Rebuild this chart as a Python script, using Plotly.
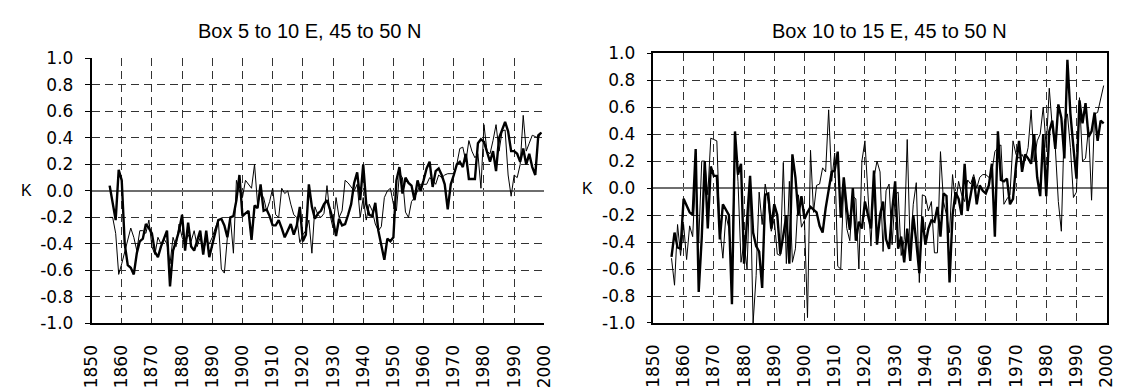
import plotly.graph_objects as go

years = list(range(1856, 2000))

left_thick = [
    0.04, -0.08, -0.22, 0.16,
    0.08, -0.40, -0.56, -0.58, -0.63, -0.47, -0.38, -0.36, -0.25, -0.28,
    -0.32, -0.46, -0.50, -0.42, -0.36, -0.30, -0.72, -0.45, -0.38, -0.30,
    -0.18, -0.45, -0.24, -0.42, -0.45, -0.38, -0.30, -0.48, -0.30, -0.50,
    -0.40, -0.30, -0.22, -0.21, -0.26, -0.35, -0.20, -0.19, -0.07, 0.12,
    -0.19, -0.17, -0.15, -0.37, -0.11, -0.13, 0.05, -0.15, -0.14, -0.19,
    -0.26, -0.26, -0.22, -0.28, -0.35, -0.30, -0.25, -0.33, -0.26, -0.12,
    -0.38, -0.33, 0.05, -0.12, -0.21, -0.17, -0.15, -0.10, -0.07, -0.14,
    -0.22, -0.34, -0.21, -0.26, -0.25, -0.18, -0.10, 0.06, 0.14, -0.07,
    0.20, -0.10, -0.18, -0.19, -0.09, -0.30, -0.40, -0.52, -0.36, -0.38,
    -0.35, 0.08, 0.18, -0.02, 0.10, 0.06, 0.04, -0.07, 0.08, 0.00,
    0.08, 0.17, 0.22, 0.03, 0.15, 0.17, 0.12, 0.05, -0.14, 0.05,
    0.12, 0.20, 0.22, 0.18, 0.28, 0.09, 0.09, 0.09, 0.36, 0.39,
    0.37, 0.30, 0.22, 0.30, 0.15, 0.40, 0.46, 0.52, 0.45, 0.30,
    0.30, 0.28, 0.22, 0.32, 0.20, 0.28, 0.18, 0.12, 0.42, 0.44,
]

left_thin = [
    -0.20, -0.20, -0.32, -0.63,
    -0.55, -0.45, -0.37, -0.28, -0.35, -0.45, -0.30, -0.30, -0.32, -0.22,
    -0.42, -0.48, -0.35, -0.40, -0.36, -0.40, -0.55, -0.35, -0.42, -0.25,
    -0.35, -0.40, -0.33, -0.38, -0.30, -0.42, -0.35, -0.45, -0.38, -0.40,
    -0.35, -0.28, -0.22, -0.59, -0.62, -0.35, -0.20, -0.47, 0.08, 0.00,
    -0.05, 0.08, 0.05, 0.02, 0.20, -0.10, -0.02, -0.05, -0.15, -0.08,
    0.02, -0.18, -0.20, 0.02, -0.02, 0.00, -0.10, -0.18, -0.20, -0.39,
    -0.33, -0.30, -0.22, -0.47, -0.12, -0.18, -0.20, -0.17, 0.04, -0.18,
    -0.28, -0.05, -0.20, -0.15, 0.08, 0.06, 0.03, 0.00, 0.05, -0.20,
    -0.05, -0.22, -0.10, -0.15, -0.25, -0.30, -0.27, -0.05, 0.00, 0.02,
    -0.10, -0.15, 0.13, 0.10, -0.16, -0.20, -0.08, -0.05, 0.00, 0.05,
    0.05, 0.05, 0.10, 0.08, 0.05, 0.12, 0.10, 0.12, 0.13, 0.13,
    0.13, 0.20, 0.32, 0.33, 0.22, 0.38, 0.30, 0.25, 0.28, 0.02,
    0.50, 0.30, 0.28, 0.38, 0.50, 0.30, 0.45, 0.46, 0.12, -0.04,
    0.12, 0.10, 0.20, 0.57, 0.30, 0.36, 0.42, 0.41, 0.40, 0.44,
]

right_thick = [
    -0.51, -0.33, -0.44, -0.45,
    -0.08, -0.13, -0.18, -0.20, 0.29, -0.77, -0.37, 0.20, -0.30, 0.16,
    0.09, 0.09, -0.38, -0.12, -0.16, -0.20, -0.86, 0.42, 0.10, 0.18,
    -0.56, -0.20, 0.09, -0.33, -0.43, -0.47, -0.74, -0.05, -0.04, -0.30,
    -0.12, -0.20, -0.49, -0.35, -0.20, -0.56, 0.25, 0.08, -0.20, -0.06,
    -0.23, -0.18, -0.14, -0.16, -0.18, -0.28, -0.33, -0.15, 0.00, 0.12,
    0.13, 0.27, -0.22, 0.08, -0.15, -0.31, 0.00, -0.39, -0.25, -0.30,
    -0.10, -0.20, -0.30, 0.13, -0.42, -0.20, -0.10, -0.38, -0.45, -0.17,
    0.05, -0.45, -0.36, -0.55, -0.30, -0.54, -0.20, -0.40, -0.63, -0.21,
    -0.42, -0.30, -0.24, -0.25, -0.14, -0.36, -0.04, -0.06, -0.70, -0.20,
    -0.03, -0.08, -0.20, 0.18, -0.17, -0.05, 0.08, -0.12, 0.02, -0.02,
    -0.04, 0.02, 0.18, -0.36, 0.42, 0.06, 0.05, 0.07, -0.12, -0.08,
    0.17, 0.35, 0.12, 0.25, 0.22, 0.18, 0.40, 0.08, -0.06, 0.40,
    -0.06, 0.42, 0.50, 0.29, 0.62, 0.52, 0.22, 0.95, 0.55, 0.30,
    0.07, 0.65, 0.48, 0.63, 0.38, 0.42, 0.56, 0.35, 0.50, 0.48,
]

right_thin = [
    -0.52, -0.72, -0.27, -0.50,
    -0.27, -0.53, -0.28, -0.36, 0.10, -0.40, 0.20, 0.20, -0.05, 0.37,
    0.36, 0.35, -0.30, -0.52, -0.20, -0.30, -0.62, 0.38, 0.05, -0.55,
    -0.40, -0.60, 0.08, -1.00, -0.65, -0.03, -0.27, 0.03, -0.10, -0.32,
    -0.23, -0.49, -0.50, 0.19, -0.56, 0.05, -0.55, -0.45, -0.05, -0.29,
    -0.24, -0.96, 0.28, -0.18, 0.02, 0.03, 0.15, 0.12, 0.58, 0.05,
    0.26, -0.58, -0.60, 0.05, -0.30, -0.39, -0.06, -0.08, -0.60, 0.20,
    0.35, -0.05, -0.43, 0.08, 0.20, 0.12, -0.47, -0.02, 0.03, -0.42,
    -0.05, -0.03, -0.50, -0.38, 0.36, -0.46, -0.12, 0.04, -0.70, -0.05,
    -0.06, -0.17, -0.10, -0.48, -0.48, 0.27, -0.10, -0.20, -0.33, 0.10,
    -0.12, 0.05, -0.05, -0.10, 0.06, 0.03, 0.10, 0.00, 0.08, 0.10,
    0.10, 0.08, 0.12, 0.27, 0.30, 0.32, -0.12, -0.08, -0.05, 0.35,
    0.25, 0.22, 0.25, 0.20, 0.30, 0.58, 0.20, 0.35, 0.40, 0.60,
    0.30, 0.74, 0.45, 0.30, -0.10, -0.32, 0.50, 0.55, 0.30, -0.07,
    -0.03, 0.67, 0.20, 0.22, 0.45, -0.09, 0.55, 0.56, 0.65, 0.76,
]

x_tick_values = list(range(1850, 2001, 10))
x_tick_labels = [str(v) for v in x_tick_values]
y_tick_values = [-1.0, -0.8, -0.6, -0.4, -0.2, 0.0, 0.2, 0.4, 0.6, 0.8, 1.0]
y_tick_labels = ["-1.0", "-0.8", "-0.6", "-0.4", "-0.2", "0.0",
                 "0.2", "0.4", "0.6", "0.8", "1.0"]
titles = ["Box 5 to 10 E, 45 to 50 N", "Box 10 to 15 E, 45 to 50 N"]
unit_label = "K"

W, H = 1127, 388
TICK_FONT = dict(family="DejaVu Sans", size=17, color="black")
TEXT_FONT = "Liberation Sans, Arial, sans-serif"

fig = go.Figure()
panels = [
    ("x", "y", left_thin, left_thick),
    ("x2", "y2", right_thin, right_thick),
]
for xa, ya, thin, thick in panels:
    fig.add_trace(go.Scatter(x=years, y=thin, mode="lines", xaxis=xa, yaxis=ya,
                             line=dict(color="black", width=1), showlegend=False))
    fig.add_trace(go.Scatter(x=years, y=thick, mode="lines", xaxis=xa, yaxis=ya,
                             line=dict(color="black", width=2.4), showlegend=False))


def xaxis_cfg(domain, anchor, mirror):
    return dict(domain=domain, anchor=anchor, range=[1850, 2000],
                tickmode="array", tickvals=x_tick_values, ticktext=x_tick_labels,
                tickangle=-90, tickfont=TICK_FONT, ticks="", ticklabelstandoff=13,
                showgrid=True, gridcolor="#333333", gridwidth=1, griddash="8px,5px",
                showline=True, linecolor="black", linewidth=1.5, mirror=mirror,
                zeroline=False, fixedrange=True)


def yaxis_cfg(domain, anchor, mirror):
    return dict(domain=domain, anchor=anchor, range=[-1, 1],
                tickmode="array", tickvals=y_tick_values, ticktext=y_tick_labels,
                tickfont=TICK_FONT, ticks="outside", ticklen=5, tickcolor="black",
                ticklabelstandoff=8,
                showgrid=True, gridcolor="#333333", gridwidth=1, griddash="8px,5px",
                zeroline=True, zerolinecolor="#6e6e6e", zerolinewidth=1.5,
                showline=True, linecolor="black", linewidth=1.5, mirror=mirror,
                fixedrange=True)


fig.update_layout(
    width=W, height=H,
    margin=dict(l=0, r=0, t=0, b=0),
    paper_bgcolor="white", plot_bgcolor="white",
    showlegend=False,
    xaxis=xaxis_cfg([83 / W, 544 / W], "y", False),
    yaxis=yaxis_cfg([(H - 330.5) / H, (H - 51) / H], "x", False),
    xaxis2=xaxis_cfg([655 / W, 1116.5 / W], "y2", True),
    yaxis2=yaxis_cfg([(H - 330) / H, (H - 45.5) / H], "x2", True),
)

annotations = [
    dict(text=titles[0], x=305 / W, y=(H - 22) / H),
    dict(text=titles[1], x=895 / W, y=(H - 22) / H),
]
for a in annotations:
    a.update(xref="paper", yref="paper", showarrow=False, xanchor="center",
             yanchor="middle", font=dict(family=TEXT_FONT, size=20, color="black"))
for xc, yc in [(17, 190.7), (588, 187.7)]:
    annotations.append(dict(text=unit_label, x=xc / W, y=(H - yc) / H, xref="paper",
                            yref="paper", showarrow=False, xanchor="center",
                            yanchor="middle",
                            font=dict(family=TEXT_FONT, size=16, color="black")))
fig.update_layout(annotations=annotations)

fig.write_html("out.html")
